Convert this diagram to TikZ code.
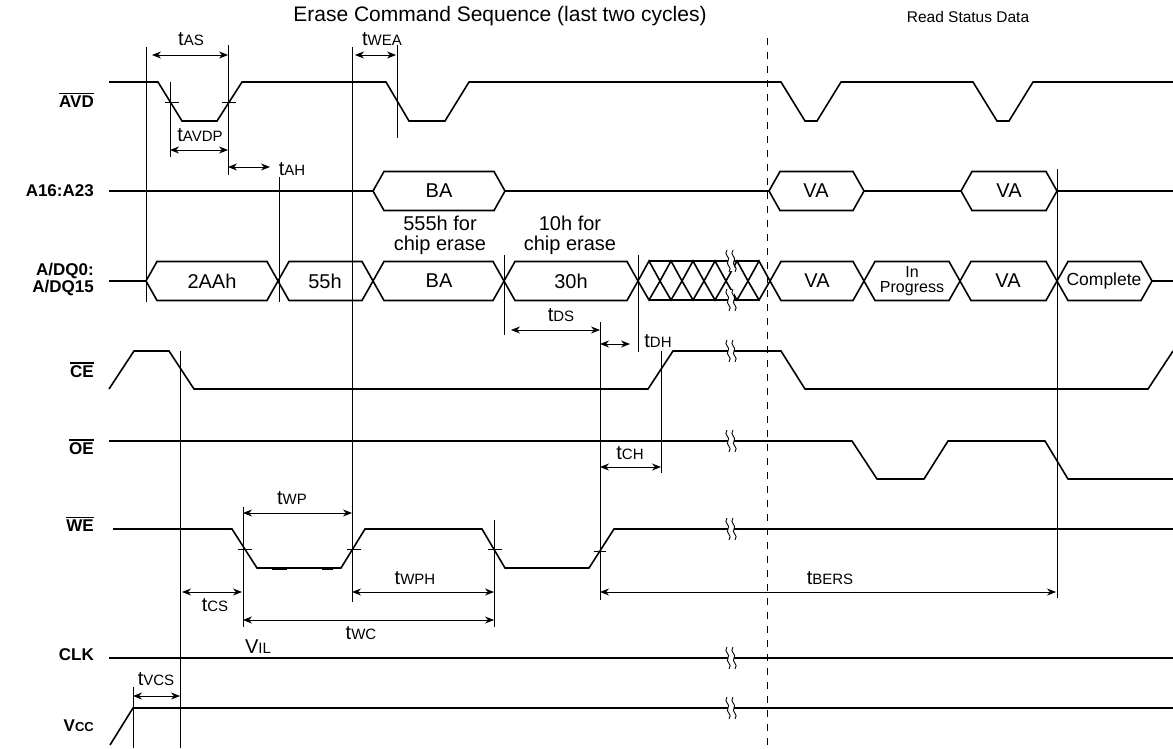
\documentclass[tikz,border=0pt]{standalone}
\usepackage{fontspec}
\setmainfont{Liberation Sans}
\usetikzlibrary{arrows.meta}
\newcommand\ovl[1]{\leavevmode\vbox{\hrule height 1.6pt\kern 1.6pt\hbox{#1}}}
\newcommand\tsub[2]{#1{\fontsize{15}{15}\selectfont #2}}
\newcommand\hexbus[4]{\draw[sig] (#1,#3) -- ({#1+11},{#3-19.5}) -- ({#2-11},{#3-19.5}) -- (#2,#3) -- ({#2-11},{#3+19.5}) -- ({#1+11},{#3+19.5}) -- cycle;
  \node[lbl] (#4) at ({(#1+#2)/2},#3) {};}
\tikzset{brkmark/.pic={
  \fill[white] (-3,-10) rectangle (3,10);
  \foreach \dx in {-3,3}{
    \draw[line width=0.9pt] (\dx-1,-11) .. controls (\dx-5,-6) and (\dx+3,-4) .. (\dx,0) .. controls (\dx-3,4) and (\dx+5,6) .. (\dx+1,11);
  }
}}
\begin{document}
\begin{tikzpicture}[x=1pt,y=-1pt,
  sig/.style={line width=1.6pt, line join=miter},
  thin/.style={line width=0.8pt},
  dim/.style={line width=0.8pt, {Stealth[length=9pt,width=7pt]}-{Stealth[length=9pt,width=7pt]}},
  lbl/.style={font=\fontsize{20}{24}\selectfont, inner sep=0pt},
  small/.style={font=\fontsize{16}{15}\selectfont, inner sep=0pt, align=center},
  tlab/.style={font=\fontsize{20}{24}\selectfont, inner sep=0pt},
  sigl/.style={font=\bfseries\fontsize{17}{17}\selectfont, anchor=east, inner sep=0pt, align=right}]
\useasboundingbox (0,0) rectangle (1173,748);
\fill[white] (0,0) rectangle (1173,748);

% headings
\node[font=\fontsize{21}{24}\selectfont, inner sep=0pt] (title) at (500,16) {Erase Command Sequence (last two cycles)};
\node[font=\fontsize{15.5}{18}\selectfont, inner sep=0pt] (rsd) at (968,17) {Read Status Data};

% signal names
\node[sigl] (nAVD) at (94,100) {\ovl{AVD}};
\node[sigl] (nA16) at (94,191) {A16:A23};
\node[sigl, font=\bfseries\fontsize{17}{17}\selectfont] (nADQ) at (94,280) {A/DQ0:\\A/DQ15};
\node[sigl] (nCE) at (94,370) {\ovl{CE}};
\node[sigl] (nOE) at (94,447) {\ovl{OE}};
\node[sigl] (nWE) at (94,524) {\ovl{WE}};
\node[sigl] (nCLK) at (94,655) {CLK};
\node[sigl] (nVcc) at (94,726) {V{\fontsize{13}{13}\selectfont CC}};

% dashed separator
\draw[thin, dash pattern=on 7pt off 7pt] (767,38) -- (767,748);

% AVD
\draw[sig] (109,82) -- (158,82) -- (182,121) -- (217,121) -- (242,82) -- (386,82) -- (409,121) -- (445,121) -- (469,82) -- (781,82) -- (805,121) -- (817,121) -- (841,82) -- (973,82) -- (997,121) -- (1009,121) -- (1033,82) -- (1173,82);
\draw[thin] (165,102) -- (179,102) (222,102) -- (236,102);

% A16:A23
\draw[sig] (109,191) -- (373,191) (505,191) -- (769,191) (864,191) -- (961,191) (1057,191) -- (1173,191);
\hexbus{373}{505}{191}{hA}
\hexbus{769}{864}{191}{hB}
\hexbus{961}{1057}{191}{hC}
\node[lbl] (aBA) at (439,191) {BA};
\node[lbl] (aVA1) at (816,191) {VA};
\node[lbl] (aVA2) at (1009,191) {VA};

% A/DQ bus
\draw[sig] (109,281) -- (146,281) (1152,281) -- (1173,281);
\hexbus{146}{278}{281}{d1}
\hexbus{278}{373}{281}{d2}
\hexbus{373}{504}{281}{d3}
\hexbus{504}{638}{281}{d4}
\foreach \i in {0,...,5}{
  \draw[sig] ({638+22*\i},281) -- ({649+22*\i},261) -- ({660+22*\i},281) -- ({649+22*\i},300) -- cycle;
}
\draw[sig] (649,261) -- (759,261) (649,300) -- (759,300);
\hexbus{770}{864}{281}{d5}
\hexbus{864}{960}{281}{d6}
\hexbus{960}{1057}{281}{d7}
\hexbus{1057}{1152}{281}{d8}
\node[lbl] (t2AAh) at (212,281) {2AAh};
\node[lbl] (t55h) at (325,281) {55h};
\node[lbl] (tBA) at (439,281) {BA};
\node[lbl] (t30h) at (571,281) {30h};
\node[lbl] (tVA1) at (817,281) {VA};
\node[small] (tInP) at (912,281) {In\\Progress};
\node[lbl] (tVA2) at (1008,281) {VA};
\node[font=\fontsize{17.5}{18}\selectfont, inner sep=0pt] (tCmp) at (1104,281) {Complete};
\node[lbl, align=center, font=\fontsize{20}{20}\selectfont] (n555) at (440,235) {555h for\\chip erase};
\node[lbl, align=center, font=\fontsize{20}{20}\selectfont] (n10h) at (570,235) {10h for\\chip erase};

% CE
\draw[sig] (109,389) -- (134,351) -- (169,351) -- (194,389) -- (648,389) -- (673,351) -- (781,351) -- (805,389) -- (1148,389) -- (1173,351);
% OE
\draw[sig] (109,441) -- (852,441) -- (877,479) -- (924,479) -- (948,441) -- (1045,441) -- (1068,479) -- (1173,479);
% WE
\draw[sig] (113,529) -- (232,529) -- (257,568) -- (341,568) -- (365,529) -- (482,529) -- (505,568) -- (589,568) -- (614,529) -- (1173,529);
\draw[line width=2.8pt] (272,569) -- (287,569) (322,569) -- (333,569);
\draw[thin] (238,549) -- (252,549) (347,549) -- (361,549) (488,549) -- (502,549) (594,551) -- (606,551);
% CLK
\draw[sig] (109,658) -- (1173,658);
% Vcc
\draw[sig] (110,745) -- (133,708) -- (1173,708);

% breaks
\foreach \yy in {261,300,351,441,529,658,708}{ \pic at (731,\yy) {brkmark}; }

% timing reference lines
\draw[thin] (146,47) -- (146,302);
\draw[thin] (228,45) -- (228,175);
\draw[thin] (170,82) -- (170,157);
\draw[thin] (279,177) -- (279,302);
\draw[thin] (352,47) -- (352,602);
\draw[thin] (397,45) -- (397,138);
\draw[thin] (504,255) -- (504,335);
\draw[thin] (638,255) -- (638,352);
\draw[thin] (600,322) -- (600,600);
\draw[thin] (661,351) -- (661,473);
\draw[thin] (1057,169) -- (1057,598);
\draw[thin] (180,351) -- (180,748);
\draw[thin] (243,507) -- (243,627);
\draw[thin] (494,520) -- (494,627);
\draw[thin] (133,687) -- (133,748);

% dimension arrows
\draw[dim] (152,55) -- (228,55);
\draw[dim] (355,55) -- (396,55);
\draw[dim] (170,150) -- (228,150);
\draw[dim] (228,167) -- (270,167);
\draw[dim] (511,330) -- (600,330);
\draw[dim] (600,344) -- (630,344);
\draw[dim] (600,467) -- (661,467);
\draw[dim] (600,592) -- (1056,592);
\draw[dim] (243,513) -- (352,513);
\draw[dim] (182,592) -- (242,592);
\draw[dim] (352,592) -- (494,592);
\draw[dim] (243,620) -- (494,620);
\draw[dim] (133,696) -- (180,696);

% timing labels
\node[tlab] (lAS) at (191,39) {\tsub{t}{AS}};
\node[tlab] (lWEA) at (382,39) {\tsub{t}{WEA}};
\node[tlab] (lAVDP) at (200,135) {\tsub{t}{AVDP}};
\node[tlab] (lAH) at (292,169) {\tsub{t}{AH}};
\node[tlab] (lDS) at (561,315) {\tsub{t}{DS}};
\node[tlab] (lDH) at (658,341) {\tsub{t}{DH}};
\node[tlab] (lCH) at (630,453) {\tsub{t}{CH}};
\node[tlab] (lBERS) at (830,578) {\tsub{t}{BERS}};
\node[tlab] (lWP) at (292,498) {\tsub{t}{WP}};
\node[tlab] (lCS) at (215,605) {\tsub{t}{CS}};
\node[tlab] (lWPH) at (415,578) {\tsub{t}{WPH}};
\node[tlab] (lWC) at (361,633) {\tsub{t}{WC}};
\node[tlab] (lVIL) at (258,647) {\tsub{V}{IL}};
\node[tlab] (lVCS) at (156,679) {\tsub{t}{VCS}};
\end{tikzpicture}
\end{document}
